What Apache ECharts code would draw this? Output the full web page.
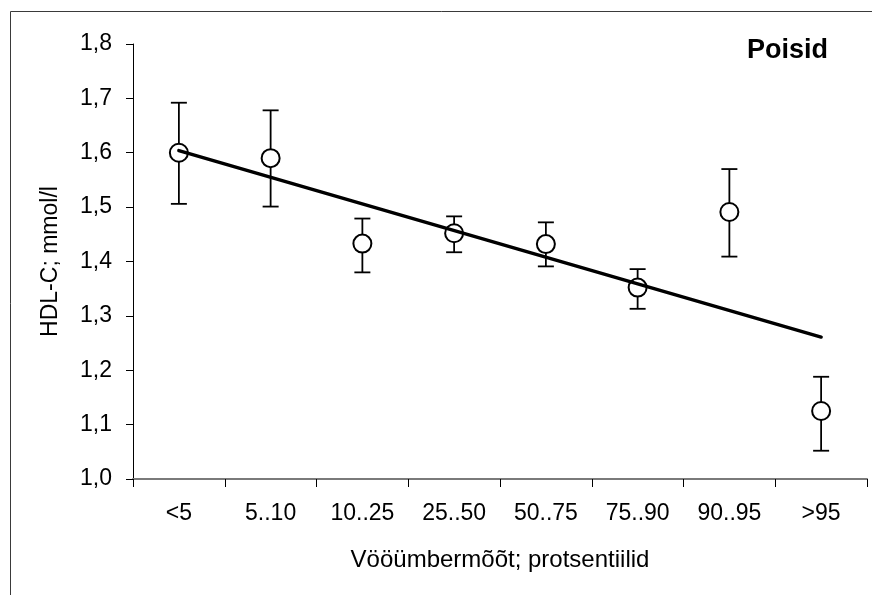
<!DOCTYPE html>
<html>
<head>
<meta charset="utf-8">
<script src="https://cdn.jsdelivr.net/npm/echarts@6/dist/echarts.min.js"></script>
<style>
  html, body { margin: 0; padding: 0; background: #fff; }
  #chart { width: 872px; height: 595px; }
</style>
</head>
<body>
<div id="chart"></div>
<script>
// Waist circumference percentile groups
const categories = ['<5', '5..10', '10..25', '25..50', '50..75', '75..90', '90..95', '>95'];
// Mean HDL-C (mmol/l) per group
const means = [1.60, 1.59, 1.433, 1.452, 1.432, 1.352, 1.491, 1.125];
// Upper and lower ends of the error bars
const upper = [1.692, 1.678, 1.479, 1.483, 1.472, 1.386, 1.570, 1.188];
const lower = [1.506, 1.501, 1.380, 1.417, 1.391, 1.313, 1.409, 1.052];
// Linear trend line: value at the first and at the last group
const trendStart = 1.604;
const trendEnd = 1.261;
// Y axis range and tick step
const yMin = 1.0, yMax = 1.8, yStep = 0.1;

const FONT = '"Liberation Sans", Arial, sans-serif';

const chart = echarts.init(document.getElementById('chart'), null, { renderer: 'canvas' });

const errorData = categories.map((c, i) => [i, lower[i], upper[i]]);

chart.setOption({
  backgroundColor: '#ffffff',
  animation: false,
  title: {
    text: 'Poisid',
    right: 39,
    top: 32,
    textStyle: { fontFamily: FONT, fontSize: 27, fontWeight: 'bold', color: '#000' }
  },
  graphic: [{
    type: 'rect',
    z: -1,
    shape: { x: 10.5, y: 11.5, width: 900, height: 700 },
    style: { fill: 'none', stroke: '#3a3a3a', lineWidth: 1 }
  }],
  grid: { left: 133, right: 5, top: 44, bottom: 116, containLabel: false },
  xAxis: {
    type: 'category',
    data: categories,
    boundaryGap: true,
    name: 'Vööümbermõõt; protsentiilid',
    nameLocation: 'middle',
    nameGap: 69,
    nameTextStyle: { fontFamily: FONT, fontSize: 24, color: '#000' },
    axisLine: { lineStyle: { color: '#7a7a7a', width: 2 } },
    axisTick: { show: true, inside: false, length: 8, alignWithLabel: false, lineStyle: { color: '#000', width: 1 } },
    axisLabel: { margin: 23, fontFamily: FONT, fontSize: 23, color: '#000', interval: 0 },
    splitLine: { show: false }
  },
  yAxis: {
    type: 'value',
    min: yMin,
    max: yMax,
    interval: yStep,
    name: 'HDL-C; mmol/l',
    nameLocation: 'middle',
    nameGap: 71,
    nameTextStyle: { fontFamily: FONT, fontSize: 23, color: '#000' },
    axisLine: { show: true, lineStyle: { color: '#000', width: 1 } },
    axisTick: { show: true, inside: false, length: 7, lineStyle: { color: '#000', width: 1 } },
    axisLabel: {
      margin: 21,
      fontFamily: FONT,
      fontSize: 23,
      color: '#000',
      formatter: v => v.toFixed(1).replace('.', ',')
    },
    splitLine: { show: false }
  },
  series: [
    {
      // error bars with caps
      type: 'custom',
      z: 2,
      data: errorData,
      encode: { x: 0, y: [1, 2] },
      renderItem: (params, api) => {
        const i = api.value(0);
        const lo = api.coord([i, api.value(1)]);
        const hi = api.coord([i, api.value(2)]);
        const half = 8;
        const style = { stroke: '#000', lineWidth: 1.8, fill: 'none' };
        return {
          type: 'group',
          children: [
            { type: 'line', shape: { x1: hi[0], y1: hi[1], x2: lo[0], y2: lo[1] }, style },
            { type: 'line', shape: { x1: hi[0] - half, y1: hi[1], x2: hi[0] + half, y2: hi[1] }, style },
            { type: 'line', shape: { x1: lo[0] - half, y1: lo[1], x2: lo[0] + half, y2: lo[1] }, style }
          ]
        };
      }
    },
    {
      // group means
      type: 'scatter',
      z: 3,
      data: means,
      symbol: 'circle',
      symbolSize: 18,
      itemStyle: { color: '#fff', borderColor: '#000', borderWidth: 2, opacity: 1 }
    },
    {
      // trend line
      type: 'line',
      z: 4,
      data: [[categories[0], trendStart], [categories[categories.length - 1], trendEnd]],
      showSymbol: false,
      symbol: 'none',
      lineStyle: { color: '#000', width: 3.5, cap: 'round' }
    }
  ]
});
</script>
</body>
</html>
